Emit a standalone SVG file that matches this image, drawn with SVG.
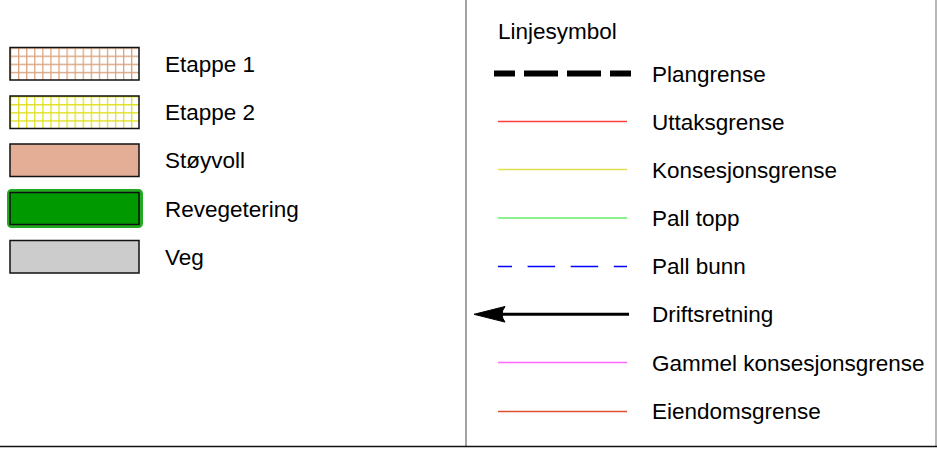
<svg xmlns="http://www.w3.org/2000/svg" width="937" height="449" viewBox="0 0 937 449">
<style>
text{font-family:"Liberation Sans",Arial,sans-serif;font-size:22.5px;fill:#000}
.box{stroke:#111;stroke-width:1.5}
.ln{fill:none}
</style>
<defs>
<pattern id="g1" patternUnits="userSpaceOnUse" x="10" y="47.5" width="8.07" height="8.1">
<path d="M0.5 0V8.1M0 0.5H8.07" stroke="#d9a27c" stroke-width="1.5" fill="none"/>
</pattern>
<pattern id="g2" patternUnits="userSpaceOnUse" x="10" y="96" width="8.07" height="8.1">
<path d="M0.5 0V8.1M0 0.5H8.07" stroke="#e0e020" stroke-width="1.5" fill="none"/>
</pattern>
</defs>
<rect width="937" height="449" fill="#fff"/>
<g id="frame">
<line x1="466" y1="0" x2="466" y2="447" stroke="#666" stroke-width="1.2"/>
<line x1="936" y1="0" x2="936" y2="447" stroke="#888" stroke-width="1.2"/>
<line x1="0" y1="446.5" x2="937" y2="446.5" stroke="#111" stroke-width="1.5"/>
</g>
<g id="etappe1">
<rect x="10" y="47.5" width="129" height="32.5" fill="#fff"/>
<rect class="box" x="10" y="47.5" width="129" height="32.5" fill="url(#g1)"/>
<text x="165" y="72">Etappe 1</text>
</g>
<g id="etappe2">
<rect x="10" y="96" width="129" height="32.5" fill="#fff"/>
<rect class="box" x="10" y="96" width="129" height="32.5" fill="url(#g2)" stroke="#333300"/>
<text x="165" y="120">Etappe 2</text>
</g>
<g id="stoyvoll">
<rect class="box" x="10" y="144" width="129" height="32.5" fill="#e4ad95"/>
<text x="165" y="168">Støyvoll</text>
</g>
<g id="revegetering">
<rect x="8.5" y="190.5" width="133" height="36" rx="3" fill="#009900" stroke="#22aa22" stroke-width="3"/>
<rect class="box" x="10" y="192.5" width="129" height="32" fill="#009900"/>
<text x="165" y="217">Revegetering</text>
</g>
<g id="veg">
<rect class="box" x="10" y="240.5" width="129" height="32.5" fill="#cccccc" stroke="#333"/>
<text x="165" y="265">Veg</text>
</g>
<g id="linjesymbol">
<text x="498" y="39">Linjesymbol</text>
</g>
<g id="connectors">
<line class="ln" x1="494" y1="73.5" x2="631" y2="73.5" stroke="#000" stroke-width="6" stroke-dasharray="34 9" stroke-dashoffset="13"/>
<line class="ln" x1="498" y1="121.5" x2="627" y2="121.5" stroke="#ff4040" stroke-width="1.5"/>
<line class="ln" x1="498" y1="169.5" x2="627" y2="169.5" stroke="#e0e050" stroke-width="1.5"/>
<line class="ln" x1="498" y1="218" x2="627" y2="218" stroke="#66ee66" stroke-width="1.5"/>
<line class="ln" x1="498" y1="266.5" x2="627" y2="266.5" stroke="#0000ff" stroke-width="1.3" stroke-dasharray="27.5 15.6" stroke-dashoffset="13.5"/>
<line class="ln" x1="629" y1="314.3" x2="500" y2="314.3" stroke="#000" stroke-width="3"/>
<path d="M474 314.3L505 306.5Q499 314.3 505 322.1Z" fill="#000" stroke="#000" stroke-width="1" stroke-linejoin="round"/>
<line class="ln" x1="498" y1="362.5" x2="627" y2="362.5" stroke="#ff66ff" stroke-width="1.5"/>
<line class="ln" x1="498" y1="411.5" x2="627" y2="411.5" stroke="#e05030" stroke-width="1.5"/>
</g>
<g id="labels">
<text x="652" y="81.5">Plangrense</text>
<text x="652" y="129.5">Uttaksgrense</text>
<text x="652" y="177.5">Konsesjonsgrense</text>
<text x="652" y="226">Pall topp</text>
<text x="652" y="274">Pall bunn</text>
<text x="652" y="322">Driftsretning</text>
<text x="652" y="370.5">Gammel konsesjonsgrense</text>
<text x="652" y="419">Eiendomsgrense</text>
</g>
</svg>
